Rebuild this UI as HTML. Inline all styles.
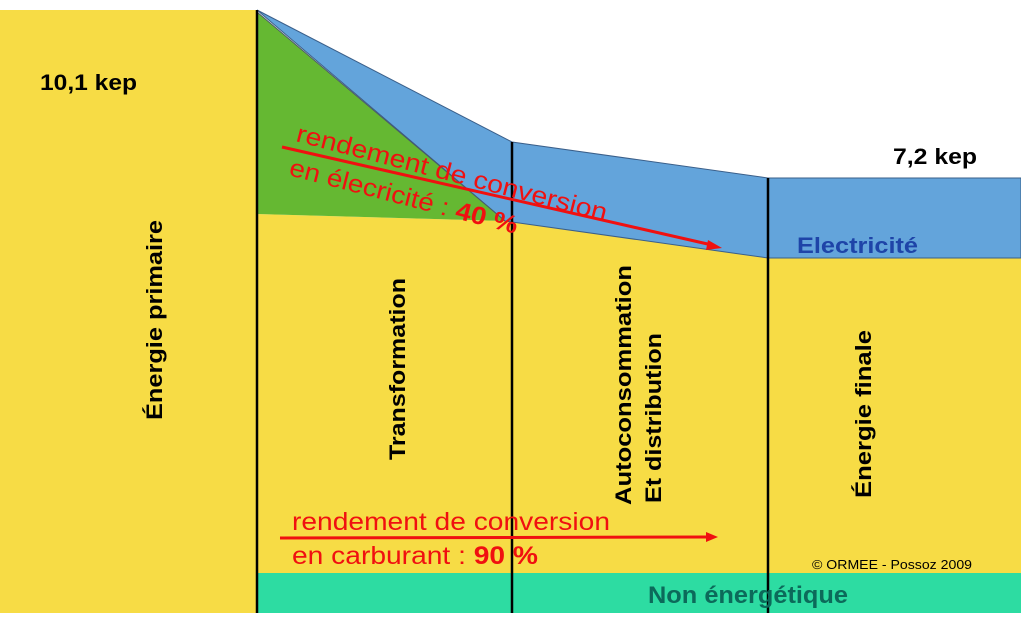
<!DOCTYPE html>
<html><head><meta charset="utf-8"><style>
body{margin:0;width:1021px;height:626px;overflow:hidden;background:#fff}
svg text{font-family:"Liberation Sans",sans-serif}
</style></head><body>
<svg width="1021" height="626" viewBox="0 0 1021 626">
<rect x="0" y="10" width="257" height="603" fill="#f7dc45"/>
<polygon points="257,214 505,221 512,222 768,258 1021,258 1021,613 257,613" fill="#f7dc45"/>
<polygon points="257,10 512,142 768,178 1021,178 1021,258 768,258 512,222 505,221" fill="#63a4db" stroke="#3a5f8a" stroke-width="1"/>
<polygon points="257,12 505,221 257,214" fill="#65b832"/>
<line x1="257" y1="12" x2="505" y2="221" stroke="#4a5a6a" stroke-width="1"/>
<rect x="257" y="573" width="764" height="40" fill="#2ddca2"/>
<g stroke="#000" stroke-width="2.5">
<line x1="257" y1="10" x2="257" y2="613"/>
<line x1="512" y1="142" x2="512" y2="613"/>
<line x1="768" y1="178" x2="768" y2="613"/>
</g>
<g font-weight="bold" fill="#000" font-size="22" lengthAdjust="spacingAndGlyphs">
<text x="40" y="90" textLength="97" lengthAdjust="spacingAndGlyphs">10,1 kep</text>
<text x="893" y="164" textLength="84" lengthAdjust="spacingAndGlyphs">7,2 kep</text>
<text transform="translate(162,320) rotate(-90)" text-anchor="middle" textLength="200" lengthAdjust="spacingAndGlyphs">Énergie primaire</text>
<text transform="translate(405,369) rotate(-90)" text-anchor="middle" textLength="182" lengthAdjust="spacingAndGlyphs">Transformation</text>
<text transform="translate(631,385) rotate(-90)" text-anchor="middle" textLength="240" lengthAdjust="spacingAndGlyphs">Autoconsommation</text>
<text transform="translate(661,418) rotate(-90)" text-anchor="middle" textLength="170" lengthAdjust="spacingAndGlyphs">Et distribution</text>
<text transform="translate(871,414) rotate(-90)" text-anchor="middle" textLength="168" lengthAdjust="spacingAndGlyphs">Énergie finale</text>
</g>
<text x="797" y="253" font-size="22" font-weight="bold" fill="#1e44a8" textLength="121" lengthAdjust="spacingAndGlyphs">Electricité</text>
<text x="648" y="603" font-size="24" font-weight="bold" fill="#0c6a5a" textLength="200" lengthAdjust="spacingAndGlyphs">Non énergétique</text>
<text x="812" y="569" font-size="13" fill="#000" textLength="160" lengthAdjust="spacingAndGlyphs">© ORMEE - Possoz 2009</text>
<g fill="#f01010" font-size="25">
<text transform="translate(295,141) rotate(14.5)" textLength="320" lengthAdjust="spacingAndGlyphs">rendement de conversion</text>
<text transform="translate(288,175) rotate(14.5)" textLength="235" lengthAdjust="spacingAndGlyphs">en élecricité : <tspan font-weight="bold">40 %</tspan></text>
<text x="292" y="530" textLength="318" lengthAdjust="spacingAndGlyphs">rendement de conversion</text>
<text x="292" y="564" textLength="246" lengthAdjust="spacingAndGlyphs">en carburant : <tspan font-weight="bold">90 %</tspan></text>
</g>
<line x1="282" y1="147" x2="712" y2="245" stroke="#f01010" stroke-width="3"/>
<polygon points="722,248 708,240 706,250" fill="#f01010"/>
<line x1="280" y1="538" x2="708" y2="537" stroke="#f01010" stroke-width="3"/>
<polygon points="718,537 706,532 706,542" fill="#f01010"/>
</svg>
</body></html>
